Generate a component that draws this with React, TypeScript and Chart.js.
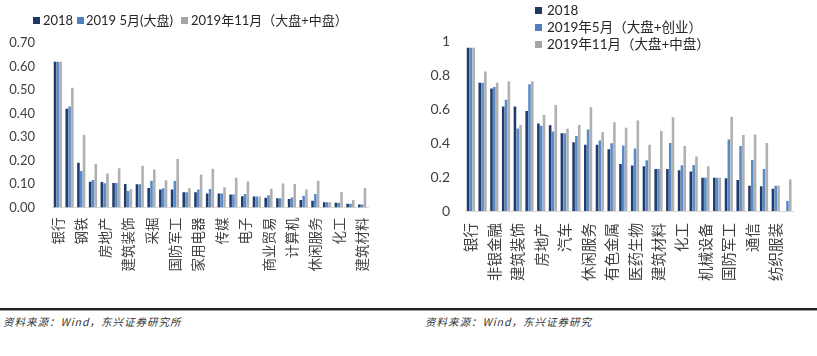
import React, { useEffect, useRef } from 'react';
import { Chart, registerables } from 'chart.js';

Chart.register(...registerables);

// ---------- Left chart data ----------
const leftCategories = [
  '银行', '非银金融', '钢铁', '公用事业', '房地产', '交通运输', '建筑装饰', '汽车', '采掘', '食品饮料',
  '国防军工', '有色金属', '家用电器', '医药生物', '传媒', '通信', '电子', '农林牧渔', '商业贸易', '轻工制造',
  '计算机', '纺织服装', '休闲服务', '机械设备', '化工', '电气设备', '建筑材料',
];
const left2018 = [0.62, 0.42, 0.19, 0.11, 0.108, 0.104, 0.10, 0.099, 0.083, 0.077, 0.077, 0.065, 0.065, 0.06, 0.06, 0.055, 0.048, 0.047, 0.042, 0.039, 0.036, 0.032, 0.029, 0.022, 0.02, 0.016, 0.013];
const left2019May = [0.62, 0.43, 0.155, 0.117, 0.103, 0.104, 0.07, 0.099, 0.114, 0.082, 0.113, 0.065, 0.077, 0.079, 0.06, 0.055, 0.057, 0.047, 0.052, 0.039, 0.043, 0.05, 0.057, 0.022, 0.02, 0.016, 0.013];
const left2019Nov = [0.62, 0.51, 0.31, 0.185, 0.145, 0.167, 0.078, 0.178, 0.162, 0.116, 0.206, 0.082, 0.14, 0.165, 0.086, 0.127, 0.111, 0.047, 0.08, 0.102, 0.10, 0.077, 0.114, 0.022, 0.066, 0.032, 0.083];
const leftSeriesNames = ['2018', '2019 5月(大盘)', '2019年11月（大盘+中盘）'];

// ---------- Right chart data ----------
const rightCategories = [
  '银行', '钢铁', '非银金融', '采掘', '建筑装饰', '公用事业', '房地产', '交通运输', '汽车', '食品饮料',
  '休闲服务', '家用电器', '有色金属', '商业贸易', '医药生物', '电子', '建筑材料', '传媒', '化工', '轻工制造',
  '机械设备', '农林牧渔', '国防军工', '计算机', '通信', '电气设备', '纺织服装', '综合',
];
const right2018 = [0.96, 0.755, 0.72, 0.614, 0.614, 0.588, 0.514, 0.504, 0.457, 0.404, 0.39, 0.39, 0.363, 0.276, 0.267, 0.263, 0.247, 0.247, 0.239, 0.233, 0.196, 0.196, 0.192, 0.182, 0.149, 0.145, 0.131, null];
const right2019May = [0.96, 0.755, 0.73, 0.655, 0.486, 0.745, 0.502, 0.467, 0.457, 0.441, 0.48, 0.414, 0.398, 0.386, 0.367, 0.298, 0.247, 0.40, 0.269, 0.27, 0.196, 0.196, 0.42, 0.382, 0.30, 0.247, 0.149, 0.059];
const right2019Nov = [0.96, 0.82, 0.755, 0.763, 0.506, 0.763, 0.565, 0.624, 0.484, 0.506, 0.61, 0.465, 0.522, 0.49, 0.533, 0.39, 0.47, 0.551, 0.382, 0.32, 0.263, 0.196, 0.555, 0.447, 0.45, 0.40, 0.149, 0.186];
const rightSeriesNames = ['2018', '2019年5月（大盘+创业）', '2019年11月（大盘+中盘）'];

const leftTicks = { min: 0, max: 0.7, step: 0.1 };
const rightTicks = { min: 0, max: 1, step: 0.2 };

const sourceText = '资料来源：Wind，东兴证券研究所';
const sourceText2 = '资料来源：Wind，东兴证券研究';

const COLORS = ['#1f3c6b', '#5b8ac8', '#b0b0b0'];
const LEGEND_COLORS = ['#1f3864', '#4f81bd', '#a5a5a5'];
const NUM_FONT = 'Lato, "Noto Sans", "Noto Sans CJK SC", sans-serif';
const CJK_FONT = '"Noto Sans CJK SC", "Noto Sans", sans-serif';

type Cfg = {
  categories: string[];
  series: (number | null)[][];
  names: string[];
  ticks: { min: number; max: number; step: number };
  decimals: number | null;
  yWidth: number;
  yPad: number;
  xHeight: number;
  xPad: number;
  padTop: number;
  padRight: number;
  tickFont: number;
  labelFont: number;
};

function buildChart(canvas: HTMLCanvasElement, c: Cfg) {
  return new Chart(canvas, {
    type: 'bar',
    data: {
      labels: c.categories,
      datasets: c.series.map((d, i) => ({
        label: c.names[i],
        data: d,
        backgroundColor: COLORS[i],
        borderWidth: 0,
        categoryPercentage: 0.72,
        barPercentage: 0.92,
      })),
    },
    options: {
      responsive: false,
      maintainAspectRatio: false,
      animation: false,
      layout: { padding: { top: c.padTop, right: c.padRight, left: 0, bottom: 0 } },
      plugins: { legend: { display: false }, tooltip: { enabled: false } },
      scales: {
        x: {
          grid: { display: false, drawTicks: false },
          border: { display: true, color: '#d9d9d9', width: 1 },
          ticks: {
            autoSkip: false,
            maxRotation: 90,
            minRotation: 90,
            padding: c.xPad,
            color: '#404040',
            font: { family: CJK_FONT, size: c.labelFont },
            callback: function (this: any, value: any, index: number) {
              return index % 2 === 0 ? this.getLabelForValue(value) : '';
            },
          },
          afterFit: (scale: any) => {
            scale.height = c.xHeight;
          },
        },
        y: {
          min: c.ticks.min,
          max: c.ticks.max,
          grid: { display: false, drawTicks: false },
          border: { display: false },
          ticks: {
            stepSize: c.ticks.step,
            padding: c.yPad,
            color: '#404040',
            font: { family: NUM_FONT, size: c.tickFont },
            callback: (v: any) => (c.decimals === null ? String(Math.round(Number(v) * 10) / 10) : Number(v).toFixed(c.decimals)),
          },
          afterFit: (scale: any) => {
            scale.width = c.yWidth;
          },
        },
      },
    },
  });
}

const sq = (color: string): React.CSSProperties => ({
  position: 'absolute',
  width: 7,
  height: 7,
  background: color,
});

export default function App() {
  const leftRef = useRef<HTMLCanvasElement | null>(null);
  const rightRef = useRef<HTMLCanvasElement | null>(null);

  useEffect(() => {
    const a = buildChart(leftRef.current!, {
      categories: leftCategories,
      series: [left2018, left2019May, left2019Nov],
      names: leftSeriesNames,
      ticks: leftTicks,
      decimals: 2,
      yWidth: 52,
      yPad: 17,
      xHeight: 300 - 207.5,
      xPad: 10,
      padTop: 43,
      padRight: 42,
      tickFont: 13,
      labelFont: 13.5,
    });
    const b = buildChart(rightRef.current!, {
      categories: rightCategories,
      series: [right2018, right2019May, right2019Nov],
      names: rightSeriesNames,
      ticks: rightTicks,
      decimals: null,
      yWidth: 55,
      yPad: 15,
      xHeight: 300 - 211,
      xPad: 12,
      padTop: 41,
      padRight: 7,
      tickFont: 14,
      labelFont: 14.5,
    });
    return () => {
      a.destroy();
      b.destroy();
    };
  }, []);

  const legendText: React.CSSProperties = {
    position: 'absolute',
    fontFamily: NUM_FONT,
    color: '#262626',
    whiteSpace: 'nowrap',
    lineHeight: '16px',
  };

  return (
    <div style={{ position: 'absolute', left: 0, top: 0, width: 817, height: 356, background: '#fff', overflow: 'hidden' }}>
      <canvas ref={leftRef} width={410} height={300} style={{ position: 'absolute', left: 0, top: 0, width: 410, height: 300 }} />
      <canvas ref={rightRef} width={407} height={300} style={{ position: 'absolute', left: 410, top: 0, width: 407, height: 300 }} />

      {/* left legend */}
      <div style={{ ...sq(LEGEND_COLORS[0]), left: 33, top: 17 }} />
      <div style={{ ...legendText, left: 43, top: 12, fontSize: 13 }}>{leftSeriesNames[0]}</div>
      <div style={{ ...sq(LEGEND_COLORS[1]), left: 77, top: 17 }} />
      <div style={{ ...legendText, left: 86, top: 12, fontSize: 13 }}>{leftSeriesNames[1]}</div>
      <div style={{ ...sq(LEGEND_COLORS[2]), left: 181, top: 17 }} />
      <div style={{ ...legendText, left: 191, top: 12, fontSize: 13 }}>{leftSeriesNames[2]}</div>

      {/* right legend */}
      {rightSeriesNames.map((n, i) => (
        <React.Fragment key={n}>
          <div style={{ ...sq(LEGEND_COLORS[i]), left: 535, top: [7, 24, 41][i] }} />
          <div style={{ ...legendText, left: 547, top: [2, 19, 36][i], fontSize: 13.5 }}>{n}</div>
        </React.Fragment>
      ))}

      {/* footer */}
      <div style={{ position: 'absolute', left: 0, top: 308, width: 817, height: 2, background: '#222' }} />
      <div style={{ position: 'absolute', left: 0, top: 310, width: 817, height: 1, background: '#9a9a9a' }} />
      <div style={{ position: 'absolute', left: 3, top: 315, fontSize: 10.5, fontStyle: 'italic', letterSpacing: 1, fontFamily: CJK_FONT, color: '#333', whiteSpace: 'nowrap', lineHeight: '14px' }}>{sourceText}</div>
      <div style={{ position: 'absolute', left: 425, top: 315, fontSize: 10.5, fontStyle: 'italic', letterSpacing: 1, fontFamily: CJK_FONT, color: '#333', whiteSpace: 'nowrap', lineHeight: '14px' }}>{sourceText2}</div>
    </div>
  );
}
